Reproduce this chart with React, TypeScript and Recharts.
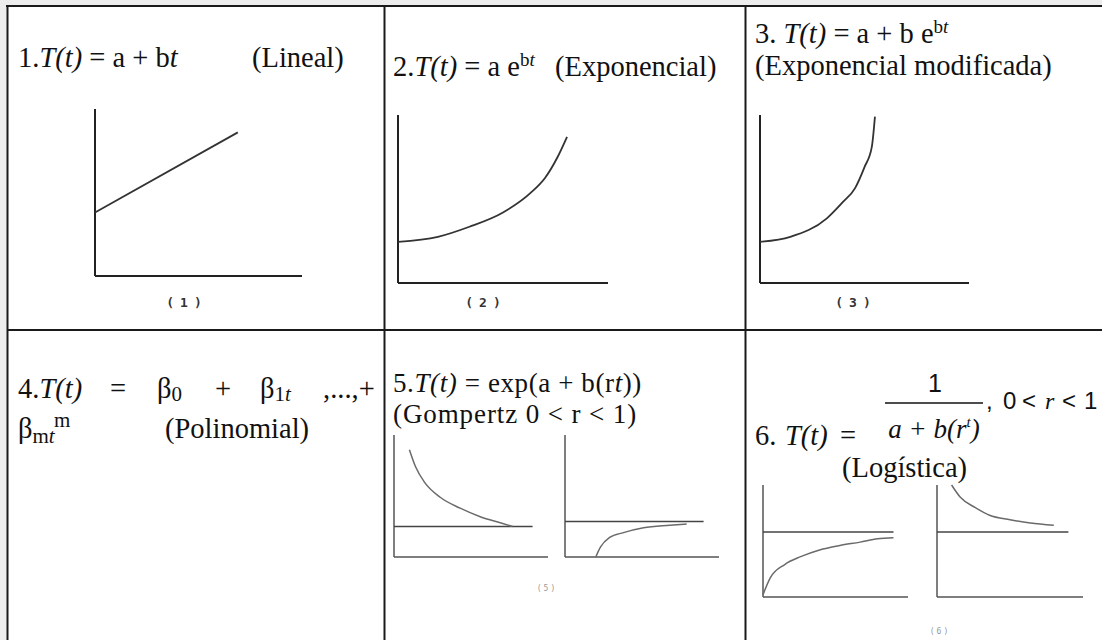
import React from "react";
import { LineChart, Line, XAxis, YAxis, ReferenceLine } from "recharts";

// curve samples, in 0..10 units on both axes
const linealT = [0, 6.9];
const linealV = [3.8, 8.6];

const expoT = [0, 1.9, 3.4, 5.0, 6.3, 7.0, 7.6, 8.05];
const expoV = [2.45, 2.75, 3.35, 4.2, 5.35, 6.25, 7.5, 8.7];

const expoModT = [0, 1.45, 3.2, 3.95, 4.55, 5.0, 5.35, 5.5];
const expoModV = [2.45, 2.75, 3.85, 4.8, 5.65, 6.9, 8.1, 9.9];

const gompDownT = [1.0, 1.4, 2.0, 3.0, 4.3, 5.6, 6.9, 7.7];
const gompDownV = [8.8, 7.4, 6.1, 4.9, 4.0, 3.3, 2.8, 2.5];
const gompUpT = [2.0, 2.3, 2.9, 3.8, 5.1, 6.8, 7.9];
const gompUpV = [0, 0.8, 1.6, 2.0, 2.4, 2.6, 2.7];

const logUpT = [0, 0.5, 1.5, 2.6, 3.9, 5.3, 6.7, 7.9, 9.0];
const logUpV = [0.2, 1.7, 2.9, 3.6, 4.2, 4.6, 4.9, 5.2, 5.3];
const logDownT = [1.0, 1.6, 2.6, 3.6, 5.0, 6.4, 8.0];
const logDownV = [10, 8.9, 8.0, 7.3, 6.9, 6.6, 6.4];

// asymptotes: [level, end of line]
const gompDownAsym = [2.5, 9.0];
const gompUpAsym = [2.9, 9.0];
const logUpAsym = [5.8, 9.0];
const logDownAsym = [5.8, 9.0];

const panelLabels = ["(1)", "(2)", "(3)", "(5)", "(6)"];

const SERIF = "'Liberation Serif', 'Times New Roman', serif";
const SANS = "'Liberation Sans', Arial, sans-serif";
const MONO = "'DejaVu Sans Mono', monospace";
const PAD = 6;

type PlotProps = {
  left: number;
  top: number;
  w: number;
  h: number;
  t: number[];
  v: number[];
  asym?: number[];
  light?: boolean;
};

const MiniPlot = ({ left, top, w, h, t, v, asym, light }: PlotProps) => {
  const data = t.map((x, i) => ({ t: x, v: v[i] }));
  const axisColor = light ? "#555" : "#222";
  const axisWidth = light ? 1.5 : 2;
  return (
    <div style={{ position: "absolute", left: left - PAD, top: top - PAD }}>
      <LineChart
        width={w + PAD * 2}
        height={h + PAD * 2}
        data={data}
        margin={{ top: PAD, right: PAD, bottom: PAD, left: PAD }}
      >
        <XAxis type="number" dataKey="t" domain={[0, 10]} hide />
        <YAxis type="number" domain={[0, 10]} hide />
        {/* axis strokes */}
        <ReferenceLine y={0} stroke={axisColor} strokeWidth={axisWidth} />
        <ReferenceLine x={0} stroke={axisColor} strokeWidth={axisWidth} />
        {asym && (
          <ReferenceLine
            segment={[
              { x: 0, y: asym[0] },
              { x: asym[1], y: asym[0] },
            ]}
            stroke="#444"
            strokeWidth={1.5}
          />
        )}
        <Line
          dataKey="v"
          type="monotone"
          dot={false}
          stroke={light ? "#6a6a6a" : "#333"}
          strokeWidth={light ? 1.5 : 1.8}
          isAnimationActive={false}
        />
      </LineChart>
    </div>
  );
};

const Table = () => (
  <svg width={1102} height={640} style={{ position: "absolute", left: 0, top: 0 }}>
    <rect x={0} y={0} width={1102} height={640} fill="#ededed" />
    <rect x={7} y={5} width={1095} height={635} fill="#fff" />
    <g stroke="#1a1a1a" strokeWidth={2}>
      <line x1={6} y1={6} x2={1102} y2={6} />
      <line x1={7.5} y1={5} x2={7.5} y2={640} />
      <line x1={384.5} y1={5} x2={384.5} y2={640} />
      <line x1={745.5} y1={5} x2={745.5} y2={640} />
      <line x1={7} y1={330} x2={1102} y2={330} />
    </g>

    <g fontFamily={SERIF} fontSize={28.5} fill="#111">
      {/* 1 */}
      <text x={18} y={67}>
        1.<tspan fontStyle="italic">T(t)</tspan> = a + b<tspan fontStyle="italic">t</tspan>
        <tspan x={252} y={67}>(Lineal)</tspan>
      </text>

      {/* 2 */}
      <text x={393} y={76}>
        2.<tspan fontStyle="italic">T(t)</tspan> = a e
        <tspan fontSize={19} dy={-10}>b</tspan>
        <tspan fontSize={19} fontStyle="italic">t</tspan>
        <tspan x={555} y={76}>(Exponencial)</tspan>
      </text>

      {/* 3 */}
      <text x={755} y={43}>
        3. <tspan fontStyle="italic">T(t)</tspan> = a + b e
        <tspan fontSize={19} dy={-10}>b</tspan>
        <tspan fontSize={19} fontStyle="italic">t</tspan>
      </text>
      <text x={755} y={75}>(Exponencial modificada)</text>

      {/* 4 */}
      <text x={18} y={398}>
        4.<tspan fontStyle="italic">T(t)</tspan>
        <tspan x={110} y={398}>=</tspan>
        <tspan x={157} y={398}>β</tspan>
        <tspan fontSize={21} dy={3}>0</tspan>
        <tspan x={215} y={398}>+</tspan>
        <tspan x={260} y={398}>β</tspan>
        <tspan fontSize={21} dy={3}>1</tspan>
        <tspan fontSize={21} fontStyle="italic">t</tspan>
        <tspan x={323} y={398}>,...,+</tspan>
        <tspan x={18} y={438}>β</tspan>
        <tspan fontSize={21} dy={5}>m</tspan>
        <tspan fontSize={21} fontStyle="italic">t</tspan>
        <tspan x={54} y={427} fontSize={21}>m</tspan>
        <tspan x={165} y={438}>(Polinomial)</tspan>
      </text>

      {/* 5 */}
      <text x={393} y={392} fontSize={27} letterSpacing={0.6}>
        5.<tspan fontStyle="italic">T(t)</tspan> = exp(a + b(r<tspan fontStyle="italic">t</tspan>))
      </text>
      <text x={393} y={423} fontSize={27} letterSpacing={0.9}>
        (Gompertz 0 &lt; r &lt; 1)
      </text>

      {/* 6 */}
      <text x={755} y={445}>
        6.<tspan x={785} y={445} fontStyle="italic">T(t)</tspan>
        <tspan x={840} y={445}>=</tspan>
      </text>
      <text x={842} y={477}>(Logística)</text>
      <line x1={885} y1={403} x2={983} y2={403} stroke="#111" strokeWidth={1.6} />
      <text x={935} y={392} fontFamily={SANS} fontSize={25} textAnchor="middle">1</text>
      <text x={934} y={438} fontSize={27} fontStyle="italic" textAnchor="middle">
        a + b(r<tspan fontSize={15} dy={-11}>t</tspan>
        <tspan dy={11}>)</tspan>
      </text>
      <text x={986} y={409} fontFamily={SANS} fontSize={24}>
        ,<tspan x={1003} y={409}>0</tspan>
        <tspan x={1022} y={409}>&lt;</tspan>
        <tspan x={1045} y={409} fontFamily={SERIF} fontStyle="italic">r</tspan>
        <tspan x={1062} y={409}>&lt;</tspan>
        <tspan x={1084} y={409}>1</tspan>
      </text>
    </g>

    <g fontFamily={MONO} textAnchor="middle">
      <text x={187} y={307} fontSize={13} fontWeight="bold" letterSpacing={6} fill="#333">{panelLabels[0]}</text>
      <text x={486} y={307} fontSize={13} fontWeight="bold" letterSpacing={6} fill="#333">{panelLabels[1]}</text>
      <text x={856} y={307} fontSize={13} fontWeight="bold" letterSpacing={6} fill="#333">{panelLabels[2]}</text>
      <text x={547} y={591} fontSize={8} letterSpacing={2} fill="#999">{panelLabels[3]}</text>
      <text x={940} y={634} fontSize={8} letterSpacing={2} fill="#999">{panelLabels[4]}</text>
    </g>
  </svg>
);

export default function App() {
  return (
    <div style={{ position: "absolute", left: 0, top: 0, width: 1102, height: 640, overflow: "hidden" }}>
      <Table />
      <MiniPlot left={95} top={109} w={207} h={167} t={linealT} v={linealV} />
      <MiniPlot left={398} top={115} w={210} h={168} t={expoT} v={expoV} />
      <MiniPlot left={760} top={115} w={209} h={168} t={expoModT} v={expoModV} />
      <MiniPlot left={394} top={435} w={154} h={122} t={gompDownT} v={gompDownV} asym={gompDownAsym} light />
      <MiniPlot left={565} top={435} w={154} h={122} t={gompUpT} v={gompUpV} asym={gompUpAsym} light />
      <MiniPlot left={763} top={485} w={145} h={112} t={logUpT} v={logUpV} asym={logUpAsym} light />
      <MiniPlot left={937} top={485} w={146} h={112} t={logDownT} v={logDownV} asym={logDownAsym} light />
    </div>
  );
}
